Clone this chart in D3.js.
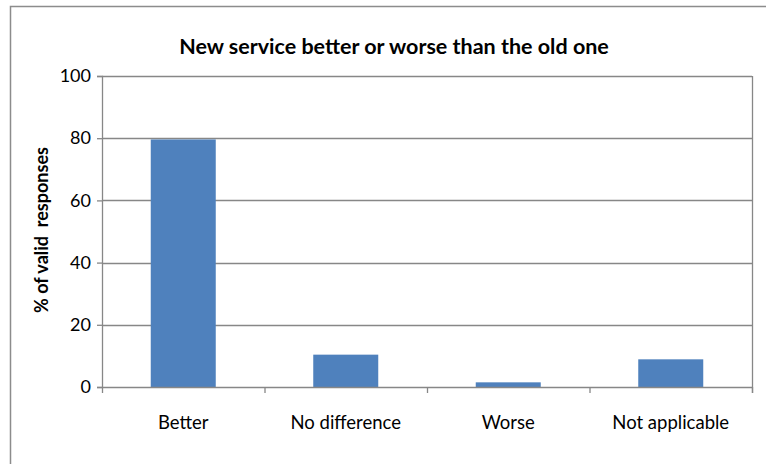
<!DOCTYPE html>
<html>
<head>
<meta charset="utf-8">
<script src="https://cdn.jsdelivr.net/npm/d3@7"></script>
<style>
  html, body { margin: 0; padding: 0; background: #fff; }
  svg { display: block; font-family: Lato, "Open Sans", sans-serif; }
</style>
</head>
<body>
<svg id="chart" width="766" height="464"></svg>
<script>
// Survey results: share of valid responses per answer
const categories = ["Better", "No difference", "Worse", "Not applicable"];
const values = [79.6, 10.4, 1.5, 8.9];
const yTicks = [0, 20, 40, 60, 80, 100];
const chartTitle = "New service better or worse than the old one";
const yTitle = "% of valid  responses";

const svg = d3.select("#chart");
const W = 766, H = 464;
const margin = { left: 102, right: 14, top: 76, bottom: 77 };
const plotW = W - margin.left - margin.right;
const plotH = H - margin.top - margin.bottom;
const gridColor = "#878787";

// outer chart frame
svg.append("rect")
  .attr("x", 10.5).attr("y", 6.5)
  .attr("width", 800).attr("height", 500)
  .attr("fill", "#fff")
  .attr("stroke", "#8c8c8c").attr("stroke-width", 1.5);

const x = d3.scaleBand().domain(categories).range([0, plotW])
  .paddingInner(0.6).paddingOuter(0.3);
const y = d3.scaleLinear().domain([0, 100]).range([plotH, 0]);

const g = svg.append("g").attr("transform", `translate(${margin.left},${margin.top})`);

// horizontal gridlines
g.append("g").selectAll("line").data(yTicks.filter(d => d > 0)).join("line")
  .attr("x1", 0).attr("x2", plotW)
  .attr("y1", d => Math.round(y(d)) + 0.5).attr("y2", d => Math.round(y(d)) + 0.5)
  .attr("stroke", gridColor).attr("stroke-width", 1.3);

// right plot edge
g.append("line")
  .attr("x1", plotW + 0.5).attr("x2", plotW + 0.5)
  .attr("y1", 0).attr("y2", plotH + 6)
  .attr("stroke", gridColor).attr("stroke-width", 1.3);

// bars
g.append("g").selectAll("rect").data(values).join("rect")
  .attr("x", (d, i) => x(categories[i]))
  .attr("width", x.bandwidth())
  .attr("y", d => y(d))
  .attr("height", d => plotH - y(d))
  .attr("fill", "#4f81bd");

// y axis
const yAxis = g.append("g")
  .call(d3.axisLeft(y).tickValues(yTicks).tickSize(5).tickPadding(6).tickFormat(d3.format("d")));
yAxis.select(".domain").attr("stroke", gridColor).attr("stroke-width", 1.3);
yAxis.selectAll(".tick line").attr("stroke", gridColor).attr("stroke-width", 1.3);
yAxis.selectAll(".tick text").attr("font-size", 18).attr("fill", "#000")
  .attr("font-family", "Lato, sans-serif");

// x axis with ticks between categories
const xAxisG = g.append("g").attr("transform", `translate(0,${plotH})`);
xAxisG.append("line")
  .attr("x1", 0).attr("x2", plotW).attr("y1", 0.5).attr("y2", 0.5)
  .attr("stroke", gridColor).attr("stroke-width", 1.3);
const step = plotW / categories.length;
xAxisG.selectAll("line.sep").data(d3.range(categories.length + 1)).join("line")
  .attr("class", "sep")
  .attr("x1", i => i * step + 0.5).attr("x2", i => i * step + 0.5)
  .attr("y1", 0).attr("y2", 6)
  .attr("stroke", gridColor).attr("stroke-width", 1.3);
xAxisG.selectAll("text").data(categories).join("text")
  .attr("x", d => x(d) + x.bandwidth() / 2)
  .attr("y", 42)
  .attr("text-anchor", "middle")
  .attr("font-size", 18.5)
  .attr("fill", "#000")
  .text(d => d);

// chart title
svg.append("text")
  .attr("x", 394).attr("y", 54)
  .attr("text-anchor", "middle")
  .attr("font-size", 21.5).attr("font-weight", "bold")
  .attr("fill", "#000")
  .text(chartTitle);

// y axis title
svg.append("text")
  .attr("transform", "translate(48,230) rotate(-90)")
  .attr("text-anchor", "middle")
  .attr("font-size", 18).attr("font-weight", "bold")
  .attr("fill", "#000")
  .attr("xml:space", "preserve")
  .style("white-space", "pre")
  .text(yTitle);
</script>
</body>
</html>
